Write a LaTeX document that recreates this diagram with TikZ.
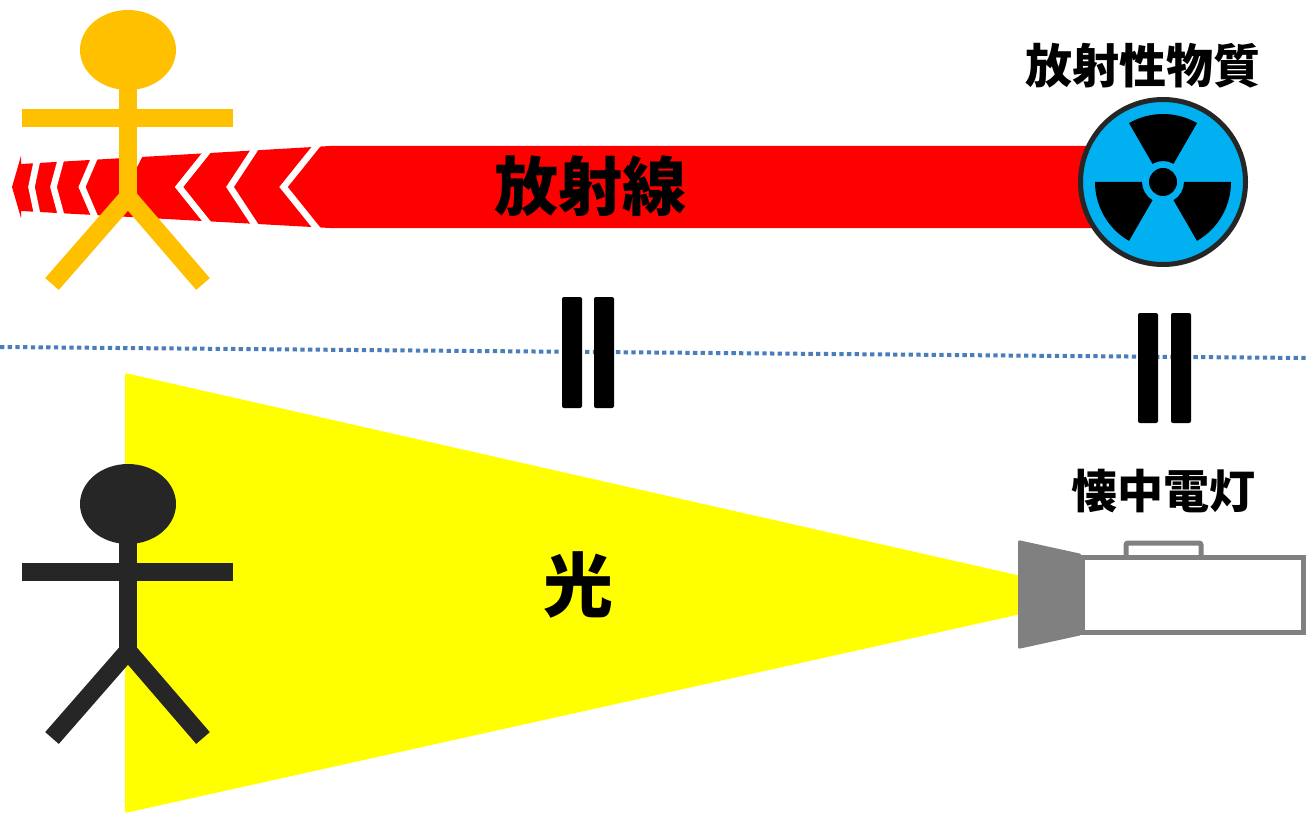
\documentclass[tikz,border=0pt]{standalone}
\usepackage{fontspec}
\newfontfamily\jp{Noto Sans CJK JP}
\definecolor{turuncu}{HTML}{FFC000}
\definecolor{koyu}{HTML}{262626}
\definecolor{radmavi}{HTML}{00B0F0}
\definecolor{gri}{HTML}{808080}
\definecolor{sari}{HTML}{FFFF00}
\definecolor{cizgimavi}{HTML}{4A7EBB}
\tikzset{
  uzuv/.style={line width=18},
  cubuk/.style={fill=black, rounded corners=2},
  noktali/.style={color=cizgimavi, line width=4, dash pattern=on 4.3 off 3.4},
  yazi/.style={font=\jp\bfseries}
}
\begin{document}
\begin{tikzpicture}[x=1pt,y=-1pt]
    \useasboundingbox (0,0) rectangle (1306,813);
    % Kırmızı ışın bandı
    \fill[red] (12,187) -- (21,156) -- (21,164) -- (330,146) -- (1110,146)
        -- (1110,228) -- (330,228) -- (21,211) -- (21,218) -- cycle;
    % Oklar arası boşluklar
    \foreach \x/\d/\h in {31.5/5/24, 53.5/7/26, 82/12/28, 123/16/31, 179/28/35, 230/25/38, 283.5/33/41}
        \draw[white, line width=6.5] (\x+1.4*\d,187-1.4*\h) -- (\x,187) -- (\x+1.4*\d,187+1.4*\h);
    % Sarı ışık
    \fill[sari, rounded corners=2] (125,373) -- (1030,578) -- (1030,612) -- (125,813) -- cycle;
    % Ayırıcı çizgi
    \draw[noktali] (0,347) -- (1306,358);
    % Çöp adamlar
    \foreach \dy/\renk in {0/turuncu, 454/koyu}{
        \begin{scope}[shift={(0,\dy)}, color=\renk]
            \fill (128,50) ellipse [x radius=48, y radius=40];
            \draw[uzuv] (128,85) -- (128,200);
            \draw[uzuv] (22,118) -- (233,118);
            \draw[uzuv] (52,284) -- (128,197) -- (203,284);
        \end{scope}
    }
    % Eşittir işaretleri
    \fill[cubuk] (562,297) rectangle (582,408);
    \fill[cubuk] (594,297) rectangle (614,408);
    \fill[cubuk] (1138,313) rectangle (1158,423);
    \fill[cubuk] (1171,313) rectangle (1191,423);
    % Radyasyon işareti
    \begin{scope}[shift={(1163,182)}]
        \fill[radmavi] (0,0) circle (84);
        \draw[koyu, line width=5] (0,0) circle (82.5);
        \foreach \a in {30,150,270}
            \fill[black] (\a-30:21) -- (\a-30:68) arc[start angle=\a-30, end angle=\a+30, radius=68]
                -- (\a+30:21) arc[start angle=\a+30, end angle=\a-30, radius=21] -- cycle;
        \fill[black] (0,0) circle (14);
    \end{scope}
    % Fener
    \fill[gri, rounded corners=2] (1018,540) -- (1082,554) -- (1082,635) -- (1018,649) -- cycle;
    \draw[gri, line width=5, fill=white] (1082,557) rectangle (1303,632);
    \draw[gri, line width=5, rounded corners=2] (1126,557) -- (1126,543) -- (1201,543) -- (1201,557);
    % Yazılar
    \node[yazi, font=\jp\bfseries\fontsize{47}{56}\selectfont] (madde) at (1143,66) {放射性物質};
    \node[yazi, font=\jp\bfseries\fontsize{64}{72}\selectfont] (isin) at (590,186) {放射線};
    \node[yazi, font=\jp\bfseries\fontsize{46}{56}\selectfont] (fener) at (1163,491) {懐中電灯};
    \node[yazi, font=\jp\bfseries\fontsize{70}{80}\selectfont] (isik) at (578,585) {光};
\end{tikzpicture}
\end{document}
